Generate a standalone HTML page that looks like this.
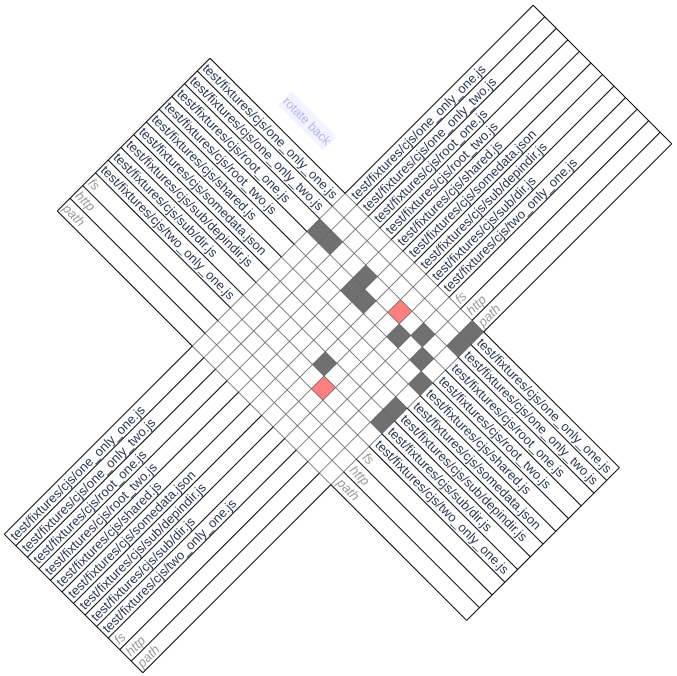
<!DOCTYPE html>
<html>
<head>
<meta charset="utf-8">
<style>
  html,body{margin:0;padding:0;background:#fff;overflow:hidden;}
  svg{display:block;}
  text{font-family:"Liberation Sans",Arial,sans-serif;}
</style>
</head>
<body>
<svg id="chart" width="677" height="676" viewBox="0 0 677 676" xmlns="http://www.w3.org/2000/svg">
  <g id="rot" transform="translate(338,339) rotate(45)">
    <rect x="-208" y="-142" width="64" height="19" fill="#f3f3ff"></rect>
    <text x="-176" y="-128" font-size="12.5" fill="#b4b4f0" text-anchor="middle">rotate back</text>
  </g>
</svg>
<script>
// ---- data ----
const labels = ["test/fixtures/cjs/one_only_one.js","test/fixtures/cjs/one_only_two.js","test/fixtures/cjs/root_one.js","test/fixtures/cjs/root_two.js","test/fixtures/cjs/shared.js","test/fixtures/cjs/somedata.json","test/fixtures/cjs/sub/depindir.js","test/fixtures/cjs/sub/dir.js","test/fixtures/cjs/two_only_one.js","fs","http","path"];
const coreModules = ["fs","http","path"];
const cellRows = [2,2,2,3,3,2,3,2,1,0,3,4,7,8,6,7];
const cellCols = [0,1,4,4,5,7,8,9,11,11,10,11,6,7,11,11];
const cellKinds = ["dep","dep","dep","dep","dep","cycle","dep","dep","dep","dep","dep","dep","dep","cycle","dep","dep"];

// ---- geometry ----
const SR = 18.0;
const SC = 16.33;
const N = labels.length;
const HX = N*SC/2;
const HY = N*SR/2;
const AX0 = -289, AX1 = 290;
const BY0 = -374, BY1 = 374;
function rowY(i){ return -HY + i*SR; }
function colX(j){ return -HX + j*SC; }

const NS = "http://www.w3.org/2000/svg";
const g = document.getElementById('rot');
function mk(tag, attrs){
  const e = document.createElementNS(NS, tag);
  for (const k in attrs) e.setAttribute(k, attrs[k]);
  return e;
}
function line(x1,y1,x2,y2,stroke,w){
  return mk('line',{x1:x1,y1:y1,x2:x2,y2:y2,stroke:stroke,'stroke-width':w});
}

const bg = mk('rect',{x:-HX,y:-HY,width:2*HX,height:2*HY,fill:'#fff'});


g.appendChild(bg);

for (let c = 0; c < cellRows.length; c++){
  const r = mk('rect',{x:colX(cellCols[c]),y:rowY(cellRows[c]),width:SC,height:SR,
    fill: cellKinds[c]==='cycle' ? '#ff7f7f' : '#707070'});
  
  
  g.appendChild(r);
}

for (let k = 0; k <= N; k++){
  const y = rowY(k);
  const l = line(-HX,y,HX,y,'#666',0.8);
  
  
  g.appendChild(l);
  const x = colX(k);
  const l2 = line(x,-HY,x,HY,'#666',0.8);
  
  
  g.appendChild(l2);
}

for (let k = 0; k <= N; k++){
  const y = rowY(k);
  const a = line(AX0,y,-HX,y,'#000',1);
  
  
  g.appendChild(a);
  const b = line(HX,y,AX1,y,'#000',1);
  
  
  g.appendChild(b);
}
const capA0 = line(AX0,-HY,AX0,HY,'#000',1);


g.appendChild(capA0);
const capA1 = line(AX1,-HY,AX1,HY,'#000',1);


g.appendChild(capA1);

for (let k = 0; k <= N; k++){
  const x = colX(k);
  const a = line(x,BY0,x,-HY,'#000',1);
  
  
  g.appendChild(a);
  const b = line(x,HY,x,BY1,'#000',1);
  
  
  g.appendChild(b);
}
const capB0 = line(-HX,BY0,HX,BY0,'#000',1);


g.appendChild(capB0);
const capB1 = line(-HX,BY1,HX,BY1,'#000',1);


g.appendChild(capB1);

function styleLabel(t, name){
  const core = coreModules.indexOf(name) >= 0;
  t.setAttribute('font-size','13');
  t.setAttribute('fill', core ? '#999' : '#2b3550');
  if (core) t.setAttribute('font-style','italic');
  t.textContent = name;
}
for (let i = 0; i < N; i++){
  const base = rowY(i) + SR - 4.5;
  const t1 = mk('text',{x:AX0+2,y:base});
  styleLabel(t1, labels[i]);
  
  
  g.appendChild(t1);
  const t2 = mk('text',{x:HX+3,y:base});
  styleLabel(t2, labels[i]);
  
  
  g.appendChild(t2);

  const bx = colX(i) + SC - 3.5;
  const t3 = mk('text',{x:0,y:0,transform:'translate('+bx+','+(-HY-3)+') rotate(-90)'});
  styleLabel(t3, labels[i]);
  
  
  g.appendChild(t3);
  const t4 = mk('text',{x:0,y:0,transform:'translate('+bx+','+(BY1-3)+') rotate(-90)'});
  styleLabel(t4, labels[i]);
  
  
  g.appendChild(t4);
}
g.appendChild(g.children[0]);
g.appendChild(g.children[0]);
</script>
</body>
</html>
